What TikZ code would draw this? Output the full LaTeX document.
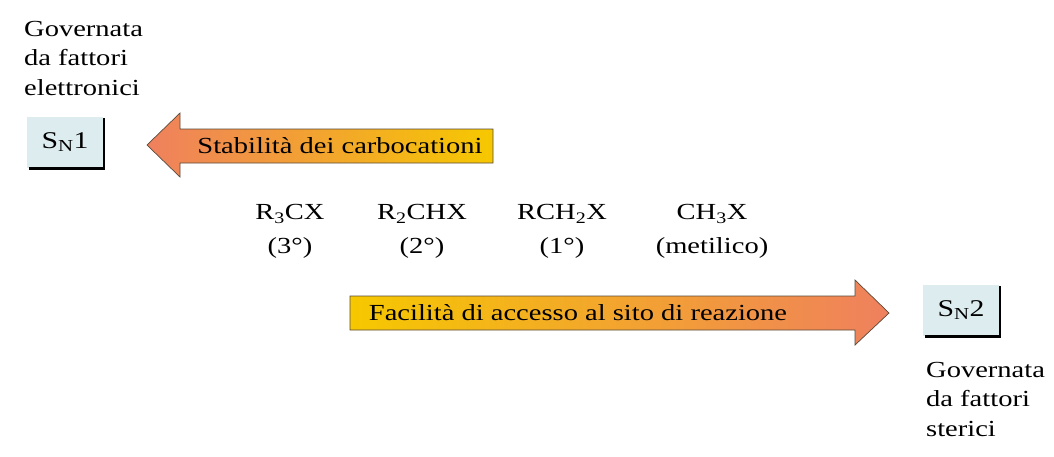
\documentclass[tikz,border=0pt]{standalone}
\usepackage{fontspec}
\setmainfont{Liberation Serif}[FakeStretch=1.24]
\definecolor{arrorange}{HTML}{EF805E}
\definecolor{arrgold}{HTML}{F6C800}
\definecolor{boxfill}{HTML}{DDEDEF}
\definecolor{arredge}{HTML}{5A4A3A}
\begin{document}
\begin{tikzpicture}[x=1pt,y=-1pt,
  txt/.style={inner sep=0pt,font=\fontsize{23}{29.5}\selectfont},
  snbox/.style={fill=boxfill,minimum width=76pt,minimum height=51pt,inner sep=0pt,font=\fontsize{24}{29.5}\selectfont},
  shadowline/.style={line width=2.5pt,black},
  arrowline/.style={draw=arredge,line width=0.7pt}]
\useasboundingbox (0,0) rectangle (1054,456);

% left block
\node[txt,anchor=north west,align=left] (govL) at (24,21) {Governata\\da fattori\\elettronici};
\node[snbox] (sn1) at (65,142) {S\textsubscript{N}1};
\draw[shadowline] ([xshift=1pt,yshift=-2pt]sn1.north east) -- ([xshift=1pt,yshift=-1pt]sn1.south east) -- ([xshift=2pt,yshift=-1pt]sn1.south west);

% arrow 1 (pointing left)
\shade[left color=arrorange,right color=arrgold,arrowline]
  (147,145) -- (180,113) -- (180,129) -- (493,129) -- (493,163) -- (180,163) -- (180,177) -- cycle;
\node[txt] (stab) at (340,146) {Stabilità dei carbocationi};

% substrates
\node[txt] (r3) at (290,214) {R\textsubscript{3}CX};
\node[txt] (r3d) at (290,248) {(3°)};
\node[txt] (r2) at (422,214) {R\textsubscript{2}CHX};
\node[txt] (r2d) at (422,248) {(2°)};
\node[txt] (r1) at (562,214) {RCH\textsubscript{2}X};
\node[txt] (r1d) at (562,248) {(1°)};
\node[txt] (me) at (712,214) {CH\textsubscript{3}X};
\node[txt] (med) at (712,248) {(metilico)};

% arrow 2 (pointing right)
\shade[left color=arrgold,right color=arrorange,arrowline]
  (350,296) -- (855,296) -- (855,280) -- (889,313) -- (855,345) -- (855,330) -- (350,330) -- cycle;
\node[txt] (fac) at (578,313) {Facilità di accesso al sito di reazione};

% right block
\node[snbox] (sn2) at (961,310) {S\textsubscript{N}2};
\draw[shadowline] ([xshift=1pt,yshift=-2pt]sn2.north east) -- ([xshift=1pt,yshift=-1pt]sn2.south east) -- ([xshift=2pt,yshift=-1pt]sn2.south west);
\node[txt,anchor=north west,align=left] (govR) at (926,362) {Governata\\da fattori\\sterici};
\end{tikzpicture}
\end{document}
